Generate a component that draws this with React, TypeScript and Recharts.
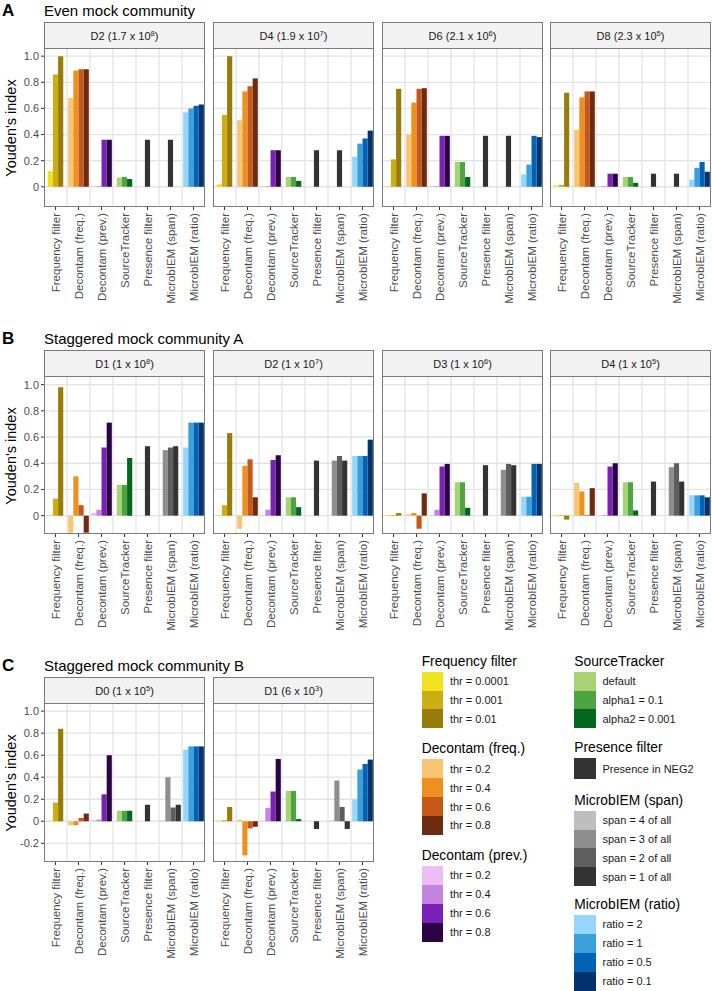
import { Bar, BarChart, CartesianGrid, Cell, XAxis, YAxis } from "recharts";

const FONT = '"Liberation Sans", Arial, Helvetica, sans-serif';

const methods = [
  "Frequency filter",
  "Decontam (freq.)",
  "Decontam (prev.)",
  "SourceTracker",
  "Presence filter",
  "MicrobIEM (span)",
  "MicrobIEM (ratio)",
];

const freqColors = ["#F0E21C", "#CDAE12", "#987C0B"];
const decFreqColors = ["#F8C572", "#EC911F", "#C8571A", "#6C2C0F"];
const decPrevColors = ["#EDBDF7", "#C385DF", "#7B20B5", "#2B0543"];
const stColors = ["#A8D273", "#4DA443", "#05661D"];
const presColors = ["#333333"];
const spanColors = ["#BEBEBE", "#8E8E8E", "#5E5E5E", "#333333"];
const ratioColors = ["#96D6FC", "#3AA0DC", "#0263B6", "#03336C"];
const methodColors = [freqColors, decFreqColors, decPrevColors, stColors, presColors, spanColors, ratioColors];

const freqLabels = ["thr = 0.0001", "thr = 0.001", "thr = 0.01"];
const decLabels = ["thr = 0.2", "thr = 0.4", "thr = 0.6", "thr = 0.8"];
const stLabels = ["default", "alpha1 = 0.1", "alpha2 = 0.001"];
const presLabels = ["Presence in NEG2"];
const spanLabels = ["span = 4 of all", "span = 3 of all", "span = 2 of all", "span = 1 of all"];
const ratioLabels = ["ratio = 2", "ratio = 1", "ratio = 0.5", "ratio = 0.1"];

// Youden's index per method (rows follow `methods`), null = setting not shown
const evenD2 = [
  [0.12, 0.86, 1.0],
  [0.68, 0.89, 0.9, 0.9],
  [0.005, 0.005, 0.36, 0.36],
  [0.07, 0.075, 0.06],
  [0.36],
  [null, null, null, 0.36],
  [0.57, 0.6, 0.62, 0.63],
];
const evenD4 = [
  [0.02, 0.55, 1.0],
  [0.51, 0.73, 0.77, 0.83],
  [0.005, 0.005, 0.28, 0.28],
  [0.075, 0.075, 0.045],
  [0.28],
  [null, null, null, 0.28],
  [0.23, 0.33, 0.37, 0.43],
];
const evenD6 = [
  [0.005, 0.21, 0.75],
  [0.4, 0.645, 0.75, 0.755],
  [0.005, 0.005, 0.39, 0.39],
  [0.19, 0.19, 0.075],
  [0.39],
  [null, null, null, 0.39],
  [0.095, 0.17, 0.39, 0.38],
];
const evenD8 = [
  [0.01, 0.015, 0.72],
  [0.435, 0.685, 0.73, 0.73],
  [0.005, 0.005, 0.1, 0.1],
  [0.075, 0.075, 0.03],
  [0.1],
  [null, null, null, 0.1],
  [0.055, 0.145, 0.19, 0.115],
];

const stagAD1 = [
  [0.005, 0.13, 0.98],
  [-0.13, 0.3, 0.08, -0.13],
  [0.02, 0.045, 0.52, 0.71],
  [0.235, 0.235, 0.44],
  [0.53],
  [null, 0.5, 0.52, 0.53],
  [0.52, 0.71, 0.71, 0.71],
];
const stagAD2 = [
  [0.005, 0.08, 0.63],
  [-0.1, 0.38, 0.43, 0.14],
  [0.005, 0.045, 0.425, 0.46],
  [0.14, 0.14, 0.065],
  [0.42],
  [null, 0.42, 0.455, 0.42],
  [0.455, 0.455, 0.455, 0.58],
];
const stagAD3 = [
  [0.005, 0.005, 0.02],
  [0.01, 0.02, -0.1, 0.17],
  [0.005, 0.045, 0.375, 0.395],
  [0.255, 0.255, 0.06],
  [0.385],
  [null, 0.35, 0.395, 0.385],
  [0.145, 0.145, 0.395, 0.395],
];
const stagAD4 = [
  [0.005, 0.005, -0.03],
  [0.25, 0.185, 0.005, 0.21],
  [0.005, 0.005, 0.375, 0.4],
  [0.255, 0.255, 0.04],
  [0.26],
  [null, 0.37, 0.4, 0.26],
  [0.155, 0.155, 0.155, 0.14],
];

const stagBD0 = [
  [0.005, 0.17, 0.84],
  [-0.035, -0.035, 0.03, 0.07],
  [0.01, 0.015, 0.245, 0.6],
  [0.095, 0.095, 0.095],
  [0.15],
  [0.005, 0.4, 0.125, 0.15],
  [0.65, 0.68, 0.68, 0.68],
];
const stagBD1 = [
  [0.005, 0.01, 0.13],
  [0.015, -0.31, -0.065, -0.05],
  [0.005, 0.12, 0.27, 0.565],
  [0.275, 0.275, 0.02],
  [-0.07],
  [0.005, 0.37, 0.13, -0.07],
  [0.2, 0.47, 0.52, 0.56],
];

const evenPanels = [
  { name: "D2", base: "1.7", exp: "8", values: evenD2 },
  { name: "D4", base: "1.9", exp: "7", values: evenD4 },
  { name: "D6", base: "2.1", exp: "6", values: evenD6 },
  { name: "D8", base: "2.3", exp: "5", values: evenD8 },
];
const stagAPanels = [
  { name: "D1", base: "1", exp: "8", values: stagAD1 },
  { name: "D2", base: "1", exp: "7", values: stagAD2 },
  { name: "D3", base: "1", exp: "6", values: stagAD3 },
  { name: "D4", base: "1", exp: "5", values: stagAD4 },
];
const stagBPanels = [
  { name: "D0", base: "1", exp: "5", values: stagBD0 },
  { name: "D1", base: "6", exp: "3", values: stagBD1 },
];

const ticksAB = [0, 0.2, 0.4, 0.6, 0.8, 1.0];
const ticksC = [-0.2, 0, 0.2, 0.4, 0.6, 0.8, 1.0];
const catTicks = [0, 1, 2, 3, 4, 5, 6];
const catBounds = [0.5, 1.5, 2.5, 3.5, 4.5, 5.5];

const DODGE = 0.225; // 0.9 / 4 settings
const PANEL_W = 161;
const STRIP_H = 27;
const X_H = 100;
const Y_W = 44;
const panelLefts = [44, 213, 382, 550];

function toBars(values: (number | null)[][]) {
  const rows: { x: number; y: number; fill: string }[] = [];
  values.forEach((vals, m) => {
    const shown = vals.map((v, j) => ({ v, j })).filter((d) => d.v !== null);
    shown.forEach((d, k) => {
      rows.push({
        x: m + (k - (shown.length - 1) / 2) * DODGE,
        y: d.v as number,
        fill: methodColors[m][d.j],
      });
    });
  });
  return rows;
}

const XTick = (props: any) => {
  const { x, y, payload } = props;
  return (
    <text
      x={x}
      y={y + 1}
      dy="0.35em"
      transform={`rotate(-90, ${x}, ${y + 1})`}
      textAnchor="end"
      fontSize={11.5}
      fontFamily={FONT}
      fill="#4D4D4D"
    >
      {methods[payload.value]}
    </text>
  );
};

function Panel({ panel, left, top, plotH, domain, ticks, first }: any) {
  const rows = toBars(panel.values);
  const yw = first ? Y_W : 0;
  const barSize = (PANEL_W / 7) * DODGE - 0.02;
  return (
    <>
      <div
        style={{
          position: "absolute",
          left,
          top,
          width: PANEL_W,
          height: STRIP_H,
          boxSizing: "border-box",
          border: "1.3px solid #7A7A7A",
          background: "#F2F2F2",
          display: "flex",
          alignItems: "center",
          justifyContent: "center",
          fontSize: 11,
          color: "#1A1A1A",
        }}
      >
        <span>
          {panel.name} ({panel.base} x 10
          <sup style={{ fontSize: 7.5, verticalAlign: "4px", lineHeight: 0 }}>{panel.exp}</sup>)
        </span>
      </div>
      <div style={{ position: "absolute", left: left - yw, top: top + STRIP_H }}>
        <BarChart
          width={PANEL_W + yw}
          height={plotH + X_H}
          data={rows}
          margin={{ top: 0, right: 0, bottom: 0, left: 0 }}
          barGap={0}
        >
          <CartesianGrid
            stroke="#E3E3E3"
            strokeWidth={1.3}
            horizontalValues={ticks}
            verticalValues={catBounds}
          />
          <XAxis
            type="number"
            dataKey="x"
            domain={[-0.5, 6.5]}
            ticks={catTicks}
            interval={0}
            allowDataOverflow
            height={X_H}
            axisLine={false}
            tickLine={{ stroke: "#333333" }}
            tickSize={3}
            tick={<XTick />}
          />
          <YAxis
            type="number"
            domain={domain}
            ticks={ticks}
            interval={0}
            allowDataOverflow
            width={yw}
            hide={!first}
            axisLine={false}
            tickLine={{ stroke: "#333333" }}
            tickSize={3}
            tick={{ fill: "#4D4D4D", fontSize: 11, fontFamily: FONT }}
            tickFormatter={(v: number) => (v === 0 ? "0" : v.toFixed(1))}
          />
          <Bar dataKey="y" barSize={barSize} isAnimationActive={false}>
            {rows.map((r, i) => (
              <Cell key={i} fill={r.fill} />
            ))}
          </Bar>
        </BarChart>
      </div>
      <div
        style={{
          position: "absolute",
          left,
          top: top + STRIP_H - 1,
          width: PANEL_W,
          height: plotH + 1,
          boxSizing: "border-box",
          border: "1.3px solid #7A7A7A",
          pointerEvents: "none",
        }}
      />
    </>
  );
}

function Row({ tag, title, panels, top, plotH, domain, ticks }: any) {
  return (
    <>
      <div style={{ position: "absolute", left: 2, top: top - 20, fontSize: 17, fontWeight: 700, lineHeight: "18px" }}>
        {tag}
      </div>
      <div style={{ position: "absolute", left: 44, top: top - 20, fontSize: 15, lineHeight: "18px" }}>{title}</div>
      <div
        style={{
          position: "absolute",
          left: 11,
          top: top + STRIP_H + plotH / 2,
          transform: "translate(-50%, -50%) rotate(-90deg)",
          fontSize: 14.5,
          whiteSpace: "nowrap",
        }}
      >
        Youden's index
      </div>
      {panels.map((p: any, i: number) => (
        <Panel
          key={i}
          panel={p}
          left={panelLefts[i]}
          top={top}
          plotH={plotH}
          domain={domain}
          ticks={ticks}
          first={i === 0}
        />
      ))}
    </>
  );
}

function LegendGroup({ left, top, title, labels, colors, keyH = 18.9 }: any) {
  return (
    <div style={{ position: "absolute", left, top: top - 20 }}>
      <div style={{ fontSize: 13.8, lineHeight: "19px", height: 20, whiteSpace: "nowrap", color: "#000" }}>{title}</div>
      {labels.map((l: string, i: number) => (
        <div key={i} style={{ display: "flex", alignItems: "center", height: keyH }}>
          <div style={{ width: 21.7, height: keyH, background: colors[i] }} />
          <div style={{ marginLeft: 6.5, fontSize: 11, whiteSpace: "nowrap", color: "#1A1A1A" }}>{l}</div>
        </div>
      ))}
    </div>
  );
}

export default function App() {
  return (
    <div
      style={{
        position: "absolute",
        left: 0,
        top: 0,
        width: 712,
        height: 991,
        background: "#FFFFFF",
        fontFamily: FONT,
        color: "#000",
      }}
    >
      <Row tag="A" title="Even mock community" panels={evenPanels} top={22} plotH={158} domain={[-0.155, 1.055]} ticks={ticksAB} />
      <Row tag="B" title="Staggered mock community A" panels={stagAPanels} top={350} plotH={157} domain={[-0.14, 1.058]} ticks={ticksAB} />
      <Row tag="C" title="Staggered mock community B" panels={stagBPanels} top={677} plotH={158} domain={[-0.37, 1.065]} ticks={ticksC} />

      <LegendGroup left={421.7} top={671.7} title={methods[0]} labels={freqLabels} colors={freqColors} />
      <LegendGroup left={421.7} top={759.3} title={methods[1]} labels={decLabels} colors={decFreqColors} />
      <LegendGroup left={421.7} top={866} title={methods[2]} labels={decLabels} colors={decPrevColors} />
      <LegendGroup left={574.3} top={671.7} title={methods[3]} labels={stLabels} colors={stColors} />
      <LegendGroup left={574.3} top={758.3} title={methods[4]} labels={presLabels} colors={presColors} keyH={21} />
      <LegendGroup left={574.3} top={810.7} title={methods[5]} labels={spanLabels} colors={spanColors} />
      <LegendGroup left={574.3} top={915} title={methods[6]} labels={ratioLabels} colors={ratioColors} />
    </div>
  );
}
